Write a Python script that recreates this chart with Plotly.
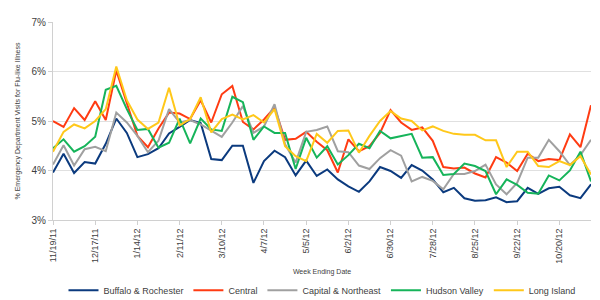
import pandas as pd
import plotly.graph_objects as go

weeks = [d.strftime("%-m/%-d/%y") for d in pd.date_range("2011-11-19", periods=52, freq="7D")]
tick_labels = ["11/19/11", "12/17/11", "1/14/12", "2/11/12", "3/10/12", "4/7/12", "5/5/12",
               "6/2/12", "6/30/12", "7/28/12", "8/25/12", "9/22/12", "10/20/12"]

buffalo = [3.96, 4.34, 3.95, 4.17, 4.14, 4.54, 5.05, 4.76, 4.27, 4.33, 4.45, 4.75, 4.88, 5.02, 4.96, 4.23,
           4.21, 4.50, 4.50, 3.75, 4.19, 4.40, 4.27, 3.90, 4.20, 3.89, 4.02, 3.82, 3.68, 3.57, 3.78, 4.07,
           3.99, 3.85, 4.11, 4.00, 3.82, 3.56, 3.65, 3.44, 3.39, 3.40, 3.46, 3.36, 3.38, 3.65, 3.53, 3.64,
           3.67, 3.50, 3.44, 3.72]
central = [5.00, 4.88, 5.26, 5.02, 5.40, 5.02, 6.02, 5.36, 4.70, 4.47, 4.85, 5.17, 5.15, 5.04, 5.42, 4.97,
           5.54, 5.71, 4.98, 4.83, 5.03, 5.27, 4.62, 4.64, 4.78, 4.58, 4.41, 3.96, 4.63, 4.39, 4.49, 4.76,
           5.22, 4.97, 4.82, 4.87, 4.60, 4.07, 4.04, 4.06, 3.94, 3.86, 4.27, 4.16, 3.99, 4.34, 4.19, 4.23,
           4.21, 4.73, 4.47, 5.32]
capital = [4.12, 4.51, 4.10, 4.43, 4.48, 4.39, 5.17, 4.97, 4.70, 4.37, 4.60, 5.24, 4.97, 5.02, 4.93, 4.80,
           4.68, 4.97, 5.30, 4.76, 4.89, 5.34, 4.53, 4.16, 4.78, 4.82, 4.89, 4.39, 4.37, 4.10, 4.03, 4.25,
           4.41, 4.30, 3.78, 3.87, 3.79, 3.62, 3.93, 3.93, 3.99, 4.12, 3.72, 3.52, 3.75, 4.26, 4.26, 4.62,
           4.39, 4.11, 4.31, 4.62]
hudson = [4.45, 4.63, 4.38, 4.49, 4.68, 5.63, 5.71, 5.24, 4.82, 4.84, 4.46, 4.56, 5.05, 4.55, 5.05, 4.83,
          4.80, 5.49, 5.38, 4.62, 4.89, 4.76, 4.76, 4.03, 4.66, 4.26, 4.49, 4.12, 4.31, 4.54, 4.45, 4.80,
          4.65, 4.70, 4.74, 4.26, 4.27, 3.91, 3.93, 4.14, 4.09, 3.99, 3.52, 3.82, 3.71, 3.55, 3.53, 3.90,
          3.80, 4.00, 4.38, 3.78]
long_island = [4.38, 4.78, 4.93, 4.85, 5.00, 5.24, 6.10, 5.42, 5.03, 4.84, 4.97, 5.67, 4.91, 5.04, 5.48, 4.77,
               5.04, 5.13, 5.03, 5.12, 4.97, 5.24, 4.49, 4.29, 4.19, 4.74, 4.56, 4.80, 4.81, 4.36, 4.70, 5.00,
               5.20, 5.05, 5.00, 4.81, 4.89, 4.80, 4.74, 4.72, 4.72, 4.61, 4.61, 4.07, 4.38, 4.38, 4.09, 4.07,
               4.19, 4.11, 4.29, 3.92]

series = [
    ("Buffalo & Rochester", buffalo, "#0b3a7e"),
    ("Central", central, "#ff3b12"),
    ("Capital & Northeast", capital, "#a0a0a0"),
    ("Hudson Valley", hudson, "#16b45a"),
    ("Long Island", long_island, "#ffc81a"),
]

fig = go.Figure()
for name, vals, color in series:
    fig.add_trace(go.Scatter(x=weeks, y=vals, name=name, mode="lines",
                             line=dict(color=color, width=2)))

font_family = "Liberation Sans, Arial, sans-serif"
fig.update_layout(
    width=600, height=300,
    margin=dict(l=53, r=9, t=22, b=80, autoexpand=False),
    paper_bgcolor="white", plot_bgcolor="white",
    font=dict(family=font_family, color="#404040", size=9),
    showlegend=True,
    legend=dict(orientation="h", x=0.5, xanchor="center", y=-0.355, yanchor="middle",
                font=dict(size=9), itemwidth=30, tracegroupgap=0),
    xaxis=dict(
        type="category", range=[0, len(weeks) - 1], automargin=False,
        tickmode="array", tickvals=[weeks[i] for i in range(0, 52, 4)], ticktext=tick_labels,
        tickangle=-90, tickfont=dict(size=9),
        ticks="outside", ticklen=4, tickcolor="#d0d0d0",
        showline=True, linecolor="#d0d0d0", linewidth=1,
        showgrid=False, zeroline=False,
        title=dict(text="Week Ending Date", font=dict(size=7), standoff=6),
    ),
    yaxis=dict(
        range=[3, 7], dtick=1, ticksuffix="%", tickformat="d", automargin=False,
        tickfont=dict(size=10),
        ticks="outside", ticklen=4, tickcolor="#d0d0d0",
        showline=True, linecolor="#d0d0d0", linewidth=1,
        showgrid=True, gridcolor="#e0e0e0", gridwidth=1, zeroline=False,
        title=dict(text="% Emergency Department Visits for Flu-like Illness", font=dict(size=7), standoff=10),
    ),
)

fig.write_html("out.html")
